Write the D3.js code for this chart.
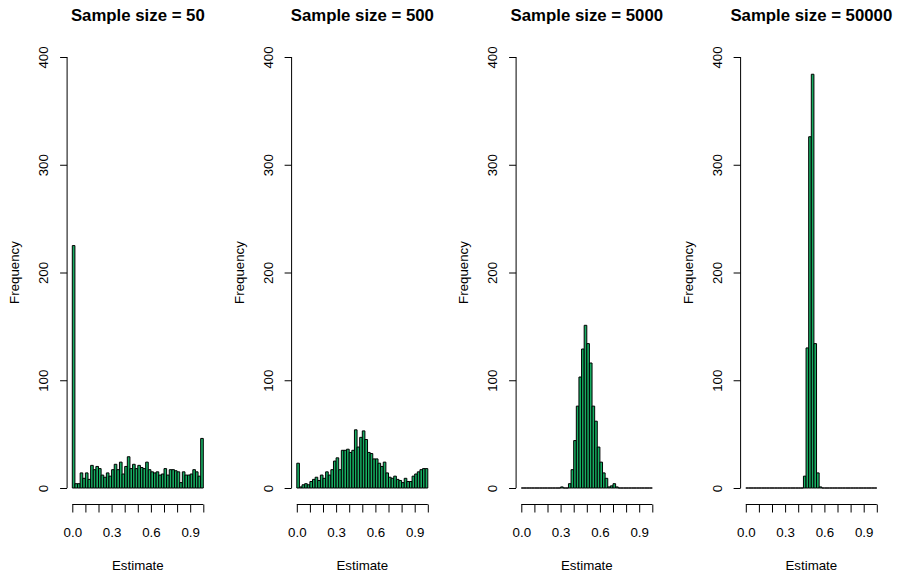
<!DOCTYPE html>
<html>
<head>
<meta charset="utf-8">
<script src="https://cdn.jsdelivr.net/npm/d3@7"></script>
<style>
  html, body { margin: 0; padding: 0; background: #fff; }
  svg text { font-family: "Liberation Sans", Arial, Helvetica, sans-serif; fill: #000; }
</style>
</head>
<body>
<svg id="chart" width="898" height="576"></svg>
<script>
// ---- data ----
const sampleSizes = [50, 500, 5000, 50000];
const binWidth = 0.02;
const counts50 = [225,4,4,14,9,14,8,21,17,20, 18,12,10,14,11,17,22,17,24,13,
                  20,29,18,22,18,21,19,18,24,17, 15,14,15,12,13,18,12,17,17,16,
                  15,5,15,12,12,13,17,15,11,46];
const counts500 = [23,1,3,4,3,6,8,10,7,12, 9,15,12,17,25,28,17,35,35,36,
                   33,35,54,38,47,53,45,33,32,27, 27,23,20,24,14,10,9,11,8,7,
                   5,9,6,6,11,13,15,17,18,18];
const counts5000 = [0,0,0,0,0,0,0,0,0,0, 0,0,0,0,0,1,0,0,4,17,
                    44,76,103,129,151,134,116,76,62,38, 24,14,9,1,2,4,1,0,0,0,
                    0,0,0,0,0,0,0,0,0,0];
const counts50000 = [0,0,0,0,0,0,0,0,0,0, 0,0,0,0,0,0,0,0,0,0,
                     0,0,11,130,326,384,134,14,1,0, 0,0,0,0,0,0,0,0,0,0,
                     0,0,0,0,0,0,0,0,0,0];
const seriesCounts = [counts50, counts500, counts5000, counts50000];
const xTicks = [0, 0.1, 0.2, 0.3, 0.4, 0.5, 0.6, 0.7, 0.8, 0.9, 1.0];
const xTickLabels = [0, 0.3, 0.6, 0.9];
const yTicks = [0, 100, 200, 300, 400];
const xTitle = "Estimate";
const yTitle = "Frequency";

// ---- layout ----
const svg = d3.select("#chart");
const panelW = 224.5;
const fill = "#16ad62";

sampleSizes.forEach((n, i) => {
  const dx = panelW * i;
  const g = svg.append("g").attr("transform", `translate(${dx},0)`);
  const x = d3.scaleLinear().domain([0, 1]).range([72.3, 203.3]);
  const y = d3.scaleLinear().domain([0, 400]).range([488, 57]);
  const plotL = 67.1, plotR = 208.6;
  const cx = (plotL + plotR) / 2;

  // bars (R hist style: every bin drawn, zero bins as flat outlines)
  const bins = seriesCounts[i].map((c, k) => ({x0: k * binWidth, x1: (k + 1) * binWidth, c}));
  g.selectAll("path.bar").data(bins).join("path")
    .attr("class", "bar")
    .attr("d", d => {
      const xa = x(d.x0), xb = x(d.x1), y0 = y(0), y1 = y(d.c);
      return `M${xa},${y0}V${y1}H${xb}V${y0}Z`;
    })
    .attr("fill", fill)
    .attr("stroke", "#000")
    .attr("stroke-width", 1);

  // y axis (R style)
  const yAxis = d3.axisLeft(y).tickValues(yTicks).tickSize(7).tickFormat(d3.format("d"));
  const ya = g.append("g").attr("transform", `translate(${plotL},0)`).call(yAxis);
  ya.select(".domain").attr("d", `M0,${y(0)}V${y(400)}`).attr("stroke", "#000");
  ya.selectAll(".tick line").attr("stroke", "#000");
  ya.selectAll(".tick text")
    .attr("x", 0).attr("dy", null)
    .attr("transform", "translate(-19,0) rotate(-90)")
    .attr("text-anchor", "middle")
    .style("font-size", "13.3px")
    .style("font-family", "Liberation Sans, Arial, sans-serif");

  // x axis
  const xAxis = d3.axisBottom(x).tickValues(xTicks).tickSize(8)
    .tickFormat(d => xTickLabels.some(v => Math.abs(v - d) < 1e-9) ? d3.format(".1f")(d) : "");
  const xa = g.append("g").attr("transform", `translate(0,504.5)`).call(xAxis);
  xa.select(".domain").attr("d", `M${x(0)},0H${x(1)}`).attr("stroke", "#000");
  xa.selectAll(".tick line").attr("stroke", "#000");
  xa.selectAll(".tick text")
    .attr("y", 32).attr("dy", null)
    .style("font-size", "13.3px")
    .style("font-family", "Liberation Sans, Arial, sans-serif");

  // titles
  g.append("text").attr("x", cx).attr("y", 20.7)
    .attr("text-anchor", "middle")
    .style("font-size", "16.8px").style("font-weight", "bold")
    .text(`Sample size = ${n}`);
  g.append("text").attr("x", cx).attr("y", 569.5)
    .attr("text-anchor", "middle").style("font-size", "13.3px")
    .text(xTitle);
  g.append("text")
    .attr("transform", `translate(19,272.5) rotate(-90)`)
    .attr("text-anchor", "middle").style("font-size", "13.3px")
    .text(yTitle);
});
</script>
</body>
</html>
